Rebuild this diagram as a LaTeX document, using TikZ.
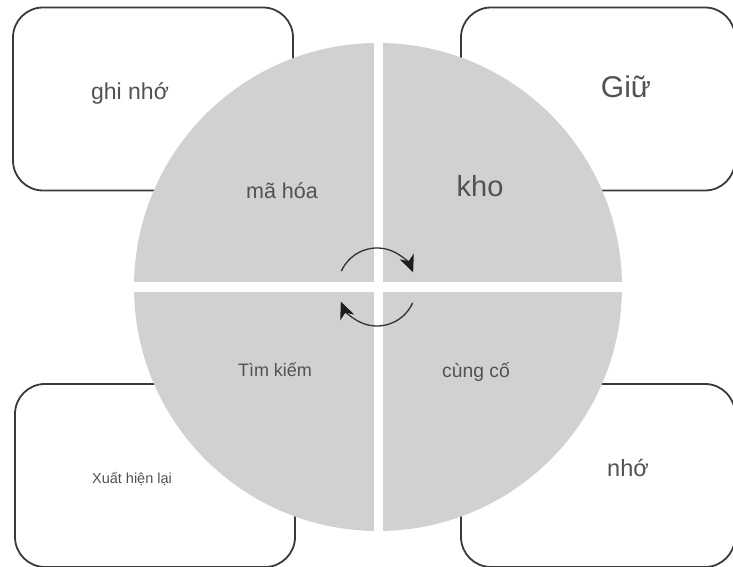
\documentclass[tikz,border=0pt]{standalone}
\usepackage{fontspec}
\setmainfont{Liberation Sans}
\usetikzlibrary{calc,arrows.meta}
\definecolor{disc}{HTML}{D1D1D1}
\definecolor{ink}{HTML}{525252}
\definecolor{frame}{HTML}{3A3A3A}
\definecolor{turn}{HTML}{333333}
\definecolor{tip}{HTML}{1E1E1E}
\begin{document}
\begin{tikzpicture}[x=1pt,y=1pt,
  card/.style={draw=frame,line width=1.8pt,rounded corners=30pt,fill=white,
    minimum height=183pt,inner sep=0pt},
  lbl/.style={text=ink,anchor=base,inner sep=0pt},
  cycle arrow/.style={draw=turn,line width=1.3pt,
    -{Stealth[length=17pt,width=15pt,inset=5pt,color=tip]}}]
\useasboundingbox (0,0) rectangle (733,567);
\fill[white] (0,0) rectangle (733,567);

% corner cards behind the disc
\node[card,minimum width=280pt] (tl) at (153,468) {};
\node[card,minimum width=274pt] (tr) at (598,468) {};
\node[card,minimum width=280pt] (bl) at (155,91.5) {};
\node[card,minimum width=274pt] (br) at (598,91.5) {};

% the disc, split into four quadrants by a white cross
\coordinate (c) at (378,280);
\fill[disc] (c) circle[radius=244];
\fill[white] (373.5,30) rectangle (382.5,530);
\fill[white] (128,275) rectangle (630,284.5);

% quadrant labels
\node[lbl,font=\fontsize{21.5}{21.5}\selectfont] (enc) at (282,368) {mã hóa};
\node[lbl,font=\fontsize{29}{29}\selectfont] (sto) at (480,370) {kho};
\node[lbl,font=\fontsize{18}{18}\selectfont] (ret) at (275,190) {Tìm kiếm};
\node[lbl,font=\fontsize{19.3}{19.3}\selectfont] (con) at (476,189) {cùng cố};

% card labels
\node[lbl,font=\fontsize{23}{23}\selectfont] (mem) at (130,467) {ghi nhớ};
\node[lbl,font=\fontsize{30}{30}\selectfont] (keep) at (626,469) {Giữ};
\node[lbl,font=\fontsize{14.5}{14.5}\selectfont] (rec) at (132,83) {Xuất hiện lại};
\node[lbl,font=\fontsize{23.5}{23.5}\selectfont] (rem) at (628,90) {nhớ};

% circular arrows around the centre
\coordinate (o) at (377,280);
\coordinate (a1) at ($(o)+(156:39)$);
\coordinate (a2) at ($(o)+(-24:39)$);
\draw[cycle arrow] (a1) arc[start angle=156,end angle=22,radius=39];
\draw[cycle arrow] (a2) arc[start angle=-24,end angle=-158,radius=39];
\end{tikzpicture}
\end{document}
